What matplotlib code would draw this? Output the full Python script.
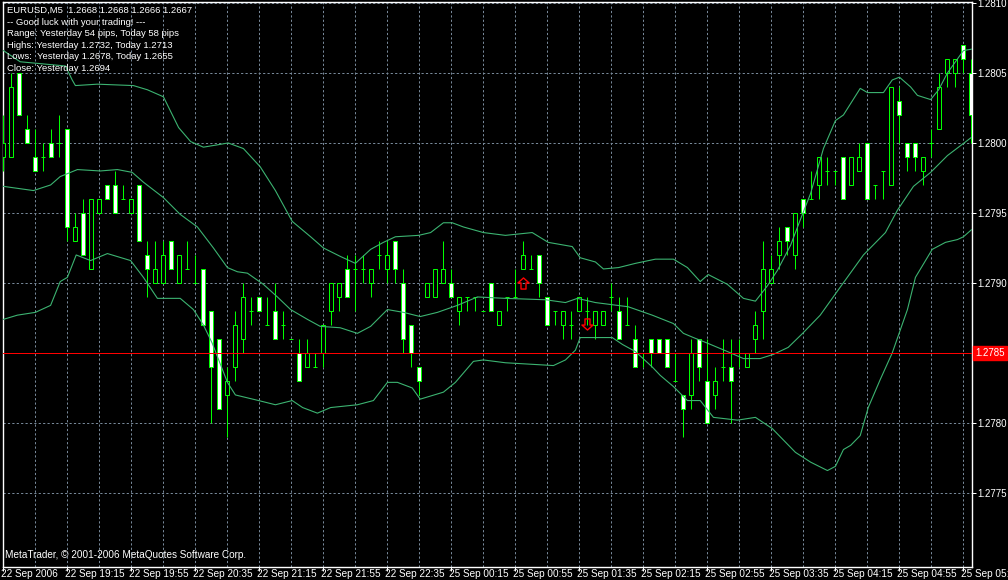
import matplotlib
matplotlib.use('Agg')
import matplotlib.pyplot as plt
import matplotlib.transforms as mtransforms
from matplotlib.patches import Rectangle
from matplotlib.path import Path

# EURUSD M5 bars (open, high, low, close)
opens = [1.2799, 1.2799, 1.2805, 1.2801, 1.2799, 1.2799, 1.2800, 1.2800, 1.2801, 1.2793,
         1.2795, 1.2791, 1.2795, 1.2797, 1.2797, 1.2796, 1.2795, 1.2797, 1.2792, 1.2790,
         1.2790, 1.2793, 1.2790, 1.2791, 1.2790, 1.2791, 1.2788, 1.2786, 1.2782, 1.2784,
         1.2786, 1.2788, 1.2789, 1.2787, 1.2788, 1.2787, 1.2786, 1.2785, 1.2784, 1.2784,
         1.2785, 1.2788, 1.2789, 1.2791, 1.2791, 1.2791, 1.2790, 1.2792, 1.2791, 1.2793,
         1.2790, 1.2787, 1.2784, 1.2789, 1.2789, 1.2790, 1.2790, 1.2788, 1.2789, 1.2789,
         1.2788, 1.2790, 1.2787, 1.2789, 1.2789, 1.2791, 1.2791, 1.2792, 1.2789, 1.2788,
         1.2787, 1.2787, 1.2788, 1.2788, 1.2787, 1.2787, 1.2789, 1.2788, 1.2787, 1.2786,
         1.2785, 1.2786, 1.2786, 1.2786, 1.2783, 1.2782, 1.2782, 1.2786, 1.2783, 1.2782,
         1.2784, 1.2784, 1.2785, 1.2784, 1.2786, 1.2788, 1.2790, 1.2792, 1.2794, 1.2792,
         1.2796, 1.2796, 1.2797, 1.2798, 1.2798, 1.2799, 1.2797, 1.2798, 1.2800, 1.2797,
         1.2798, 1.2797, 1.2803, 1.2800, 1.2800, 1.2798, 1.2800, 1.2801, 1.2805, 1.2805,
         1.2807, 1.2805]
highs = [1.2802, 1.2805, 1.2805, 1.2802, 1.2801, 1.2800, 1.2801, 1.2802, 1.2801, 1.2795,
         1.2796, 1.2796, 1.2796, 1.2797, 1.2798, 1.2797, 1.2796, 1.2797, 1.2793, 1.2793,
         1.2793, 1.2793, 1.2792, 1.2793, 1.2792, 1.2791, 1.2788, 1.2786, 1.2784, 1.2788,
         1.2790, 1.2789, 1.2789, 1.2789, 1.2790, 1.2788, 1.2786, 1.2786, 1.2786, 1.2785,
         1.2787, 1.2790, 1.2790, 1.2792, 1.2792, 1.2792, 1.2791, 1.2793, 1.2793, 1.2793,
         1.2791, 1.2787, 1.2784, 1.2790, 1.2791, 1.2793, 1.2791, 1.2789, 1.2789, 1.2789,
         1.2788, 1.2790, 1.2788, 1.2789, 1.2791, 1.2793, 1.2792, 1.2792, 1.2789, 1.2788,
         1.2788, 1.2788, 1.2789, 1.2789, 1.2788, 1.2788, 1.2790, 1.2789, 1.2789, 1.2787,
         1.2785, 1.2786, 1.2786, 1.2786, 1.2785, 1.2782, 1.2786, 1.2786, 1.2786, 1.2784,
         1.2786, 1.2786, 1.2786, 1.2785, 1.2788, 1.2793, 1.2792, 1.2794, 1.2794, 1.2795,
         1.2796, 1.2798, 1.2799, 1.2799, 1.2798, 1.2799, 1.2799, 1.2800, 1.2800, 1.2797,
         1.2798, 1.2804, 1.2804, 1.2800, 1.2800, 1.2799, 1.2801, 1.2805, 1.2806, 1.2806,
         1.2807, 1.2806]
lows = [1.2798, 1.2799, 1.2802, 1.2800, 1.2798, 1.2798, 1.2799, 1.2799, 1.2793, 1.2793,
        1.2792, 1.2791, 1.2795, 1.2796, 1.2795, 1.2796, 1.2795, 1.2793, 1.2789, 1.2790,
        1.2790, 1.2791, 1.2790, 1.2791, 1.2790, 1.2787, 1.2780, 1.2781, 1.2779, 1.2783,
        1.2785, 1.2787, 1.2788, 1.2787, 1.2786, 1.2786, 1.2786, 1.2783, 1.2784, 1.2784,
        1.2784, 1.2787, 1.2788, 1.2789, 1.2788, 1.2790, 1.2789, 1.2791, 1.2790, 1.2790,
        1.2785, 1.2784, 1.2782, 1.2789, 1.2789, 1.2790, 1.2789, 1.2787, 1.2788, 1.2788,
        1.2788, 1.2788, 1.2787, 1.2788, 1.2789, 1.2791, 1.2791, 1.2789, 1.2787, 1.2787,
        1.2786, 1.2786, 1.2788, 1.2787, 1.2786, 1.2787, 1.2788, 1.2786, 1.2787, 1.2784,
        1.2784, 1.2784, 1.2785, 1.2784, 1.2783, 1.2779, 1.2781, 1.2783, 1.2780, 1.2781,
        1.2783, 1.2780, 1.2784, 1.2784, 1.2785, 1.2786, 1.2790, 1.2791, 1.2792, 1.2791,
        1.2794, 1.2796, 1.2796, 1.2797, 1.2797, 1.2796, 1.2797, 1.2798, 1.2796, 1.2796,
        1.2796, 1.2797, 1.2800, 1.2798, 1.2798, 1.2797, 1.2799, 1.2801, 1.2804, 1.2804,
        1.2805, 1.2800]
closes = [1.2800, 1.2804, 1.2802, 1.2800, 1.2798, 1.2799, 1.2799, 1.2800, 1.2794, 1.2794,
          1.2792, 1.2796, 1.2796, 1.2796, 1.2795, 1.2796, 1.2796, 1.2793, 1.2791, 1.2791,
          1.2792, 1.2791, 1.2792, 1.2791, 1.2790, 1.2787, 1.2784, 1.2781, 1.2783, 1.2787,
          1.2789, 1.2788, 1.2788, 1.2787, 1.2786, 1.2787, 1.2786, 1.2783, 1.2785, 1.2784,
          1.2787, 1.2790, 1.2790, 1.2789, 1.2791, 1.2791, 1.2791, 1.2792, 1.2792, 1.2791,
          1.2786, 1.2785, 1.2783, 1.2790, 1.2791, 1.2791, 1.2789, 1.2789, 1.2789, 1.2789,
          1.2788, 1.2788, 1.2788, 1.2789, 1.2789, 1.2792, 1.2791, 1.2790, 1.2787, 1.2788,
          1.2788, 1.2787, 1.2789, 1.2788, 1.2788, 1.2788, 1.2789, 1.2786, 1.2787, 1.2784,
          1.2785, 1.2785, 1.2785, 1.2784, 1.2783, 1.2781, 1.2785, 1.2784, 1.2780, 1.2783,
          1.2784, 1.2783, 1.2785, 1.2785, 1.2787, 1.2791, 1.2791, 1.2793, 1.2793, 1.2795,
          1.2795, 1.2796, 1.2799, 1.2798, 1.2798, 1.2796, 1.2799, 1.2799, 1.2796, 1.2797,
          1.2798, 1.2804, 1.2802, 1.2799, 1.2799, 1.2799, 1.2800, 1.2804, 1.2806, 1.2806,
          1.2806, 1.2802]

# Bollinger bands, sampled along the chart (bar index, price)
upper_idx = [0, 2.1, 7.75, 8.6, 9, 11.75, 16.25, 18, 20, 21.9, 23.4, 25, 27.1, 28.1, 30, 32.1,
             34, 36.1, 38.4, 40, 42.1, 44, 45.9, 47.5, 49, 51.9, 53.4, 55, 56.1, 57.5, 60,
             62.75, 66.1, 68.1, 71.1, 72.1, 74, 75, 76.9, 79, 81.5, 83.75, 85.5, 87.1, 88.1,
             90.5, 92.5, 94, 95.5, 96.75, 98.4, 99.6, 100.9, 101.75, 102.5, 104, 105, 107.1,
             108, 110, 111.1, 112, 113.4, 114.25, 115.9, 116.9, 118, 120, 121]
upper = [1.28066, 1.28058, 1.28055, 1.28045, 1.28041, 1.28042, 1.28041, 1.28038, 1.28033,
         1.28011, 1.28001, 1.27997, 1.27999, 1.28000, 1.27996, 1.27983, 1.27966, 1.27944,
         1.27933, 1.27925, 1.27919, 1.27914, 1.27924, 1.27929, 1.27933, 1.27934, 1.27936,
         1.27943, 1.27943, 1.27940, 1.27936, 1.27934, 1.27936, 1.27929, 1.27926, 1.27918,
         1.27915, 1.27910, 1.27911, 1.27914, 1.27917, 1.27917, 1.27911, 1.27901, 1.27906,
         1.27899, 1.27889, 1.27887, 1.27898, 1.27909, 1.27927, 1.27945, 1.27964, 1.27981,
         1.27996, 1.28016, 1.28020, 1.28039, 1.28036, 1.28036, 1.28045, 1.28047, 1.28040,
         1.28034, 1.28031, 1.28038, 1.28050, 1.28066, 1.28067]
middle_idx = [0, 3.75, 5.9, 7.1, 9.25, 12.1, 14.25, 16.1, 17.5, 20, 22.1, 24.25, 26.25, 28,
              29.25, 30.5, 32.5, 34.25, 35.9, 38, 39.6, 42.1, 44.25, 45.9, 48, 50, 52.1, 54.25,
              56.75, 59.25, 62.75, 67.75, 70.25, 71.75, 74, 78.1, 81.1, 83.75, 85, 86.25, 88,
              90.5, 92.5, 94.6, 96.25, 98.1, 99.9, 102.1, 104.6, 107.5, 110.25, 111.75,
              113.75, 115.9, 118, 121]
middle = [1.27969, 1.27966, 1.27970, 1.27976, 1.27981, 1.27980, 1.27981, 1.27979, 1.27972,
          1.27961, 1.27949, 1.27940, 1.27925, 1.27911, 1.27908, 1.27907, 1.27899, 1.27890,
          1.27881, 1.27874, 1.27869, 1.27868, 1.27864, 1.27869, 1.27881, 1.27879, 1.27876,
          1.27879, 1.27884, 1.27890, 1.27889, 1.27888, 1.27886, 1.27889, 1.27886, 1.27883,
          1.27877, 1.27871, 1.27864, 1.27861, 1.27857, 1.27851, 1.27846, 1.27846, 1.27849,
          1.27854, 1.27864, 1.27877, 1.27897, 1.27920, 1.27936, 1.27952, 1.27969, 1.27979,
          1.27991, 1.28004]
lower_idx = [0, 1.75, 4, 5.9, 7.1, 8, 9.1, 10.9, 13, 15.9, 17.5, 19.25, 22.1, 23.75, 25,
             26.1, 28, 29, 31.9, 34, 36.1, 37.4, 39.25, 40.9, 44.25, 46.25, 48, 49.25, 51.1,
             52.1, 55, 56.5, 58.75, 60, 62.75, 68.75, 70.25, 71.5, 72.1, 76.1, 77.4, 79,
             81.1, 82.1, 83.75, 85.5, 87.1, 88.75, 91.75, 94, 96.1, 99, 100.9, 103, 104, 105,
             105.9, 107.1, 108.1, 109.6, 111.1, 113, 114, 116.1, 117.75, 119.25, 120, 121]
lower = [1.27874, 1.27877, 1.27879, 1.27884, 1.27901, 1.27904, 1.27920, 1.27916, 1.27921,
         1.27916, 1.27904, 1.27889, 1.27889, 1.27881, 1.27870, 1.27857, 1.27829, 1.27820,
         1.27816, 1.27813, 1.27816, 1.27811, 1.27807, 1.27811, 1.27813, 1.27816, 1.27829,
         1.27829, 1.27825, 1.27817, 1.27822, 1.27829, 1.27844, 1.27845, 1.27843, 1.27841,
         1.27845, 1.27852, 1.27861, 1.27861, 1.27856, 1.27851, 1.27840, 1.27834, 1.27826,
         1.27816, 1.27816, 1.27804, 1.27802, 1.27804, 1.27796, 1.27779, 1.27772, 1.27766,
         1.27769, 1.27781, 1.27784, 1.27791, 1.27811, 1.27831, 1.27850, 1.27881, 1.27904,
         1.27924, 1.27929, 1.27931, 1.27933, 1.27938]

time_labels = ['22 Sep 2006', '22 Sep 19:15', '22 Sep 19:55', '22 Sep 20:35', '22 Sep 21:15',
               '22 Sep 21:55', '22 Sep 22:35', '25 Sep 00:15', '25 Sep 00:55', '25 Sep 01:35',
               '25 Sep 02:15', '25 Sep 02:55', '25 Sep 03:35', '25 Sep 04:15', '25 Sep 04:55',
               '25 Sep 05:35']
price_ticks = [1.2775, 1.2780, 1.2785, 1.2790, 1.2795, 1.2800, 1.2805, 1.2810]
bid_line = 1.2785
up_arrow = (65, 1.2790)
down_arrow = (73, 1.27871)

info_lines = ['EURUSD,M5  1.2668 1.2668 1.2666 1.2667',
              '-- Good luck with your trading! ---',
              'Range: Yesterday 54 pips, Today 58 pips',
              'Highs: Yesterday 1.2732, Today 1.2713',
              'Lows:  Yesterday 1.2678, Today 1.2655',
              'Close: Yesterday 1.2694']

# colours
bg = 'black'
candle_col = '#00ff00'
band_col = '#3cb371'
grid_col = '#778899'
fnt = 'Liberation Sans'
fs = 7
lw1 = 0.72   # 1 px at 100 dpi

W, H = 1008, 580
fig = plt.figure(figsize=(W / 100, H / 100), dpi=100, facecolor=bg)
ax = fig.add_axes([3 / W, 13 / H, 969 / W, 565 / H], facecolor=bg)

# candles
bw = 0.5
for i, (o, h, l, c) in enumerate(zip(opens, highs, lows, closes)):
    ax.vlines(i, l, h, color=candle_col, lw=lw1, snap=True, zorder=3)
    if c > o:
        ax.add_patch(Rectangle((i - bw / 2, o), bw, c - o, facecolor='black',
                               edgecolor=candle_col, lw=lw1, snap=True, zorder=4))
    elif c < o:
        ax.add_patch(Rectangle((i - bw / 2, c), bw, o - c, facecolor='white',
                               edgecolor=candle_col, lw=lw1, snap=True, zorder=4))
    else:
        ax.hlines(c, i - bw / 2, i + bw / 2, color=candle_col, lw=lw1, snap=True, zorder=4)

# bollinger bands
ax.plot(upper_idx, upper, color=band_col, lw=0.8, zorder=5)
ax.plot(middle_idx, middle, color=band_col, lw=0.8, zorder=5)
ax.plot(lower_idx, lower, color=band_col, lw=0.8, zorder=5)

# bid line
ax.axhline(bid_line, color='#ff0000', lw=lw1, snap=True, zorder=6)

# signal arrows (hollow red arrows)
up_path = Path([(0, 1), (1, 0.1), (0.45, 0.1), (0.45, -1), (-0.45, -1), (-0.45, 0.1),
                (-1, 0.1), (0, 1)], closed=True)
down_path = Path([(0, -1), (1, -0.1), (0.45, -0.1), (0.45, 1), (-0.45, 1), (-0.45, -0.1),
                  (-1, -0.1), (0, -1)], closed=True)
ax.plot(up_arrow[0], up_arrow[1], marker=up_path, markersize=8, markerfacecolor='none',
        markeredgecolor='red', markeredgewidth=1.0, zorder=7)
ax.plot(down_arrow[0], down_arrow[1], marker=down_path, markersize=8, markerfacecolor='none',
        markeredgecolor='red', markeredgewidth=1.0, zorder=7)

# axes limits and ticks
ax.set_xlim(-0.05, 121.07)
ax.set_ylim(1.276971, 1.281007)

ax.set_xticks(range(0, 8 * len(time_labels), 8))
ax.set_xticklabels(time_labels)
ax.set_xticks(range(4, 122, 8), minor=True)
ax.yaxis.tick_right()
ax.set_yticks(price_ticks)
ax.set_yticklabels(['' if p == bid_line else '%.4f' % p for p in price_ticks])

ax.tick_params(axis='both', which='major', colors='white', labelcolor='white',
               labelsize=fs, length=3, width=lw1, direction='out')
ax.tick_params(axis='x', which='major', pad=-1.5, labelsize=7.2)
ax.tick_params(axis='y', which='major', pad=1)
ax.tick_params(axis='x', which='minor', length=0)
shift = mtransforms.ScaledTranslation(-2 / 100, 0, fig.dpi_scale_trans)
for lab in ax.get_xticklabels():
    lab.set_ha('left')
    lab.set_family(fnt)
    lab.set_transform(lab.get_transform() + shift)
for lab in ax.get_yticklabels():
    lab.set_family(fnt)

ax.grid(True, which='both', color=grid_col, lw=lw1, linestyle=(0, (2.2, 2.2)), snap=True)
ax.set_axisbelow(True)
for s in ax.spines.values():
    s.set_color('white')
    s.set_linewidth(1)

# bid price label on the price scale
trans = mtransforms.blended_transform_factory(ax.transAxes, ax.transData)
ax.text(1.0035, bid_line, '%.4f' % bid_line, transform=trans, color='white', fontsize=fs,
        family=fnt, ha='left', va='center', clip_on=False, zorder=10,
        bbox=dict(facecolor='red', edgecolor='red', boxstyle='square,pad=0.25'))

# info text block, top left
for n, line in enumerate(info_lines):
    fig.text(7 / W, 1 - (10.5 + 11.6 * n) / H, line, color='white', fontsize=6.8,
             family=fnt, ha='left', va='center')

fig.text(5 / W, 1 - 555 / H, 'MetaTrader, \u00a9 2001-2006 MetaQuotes Software Corp.',
         color='white', fontsize=7.2, family=fnt, ha='left', va='center')

fig.savefig('out.png', dpi=100, facecolor=bg)
